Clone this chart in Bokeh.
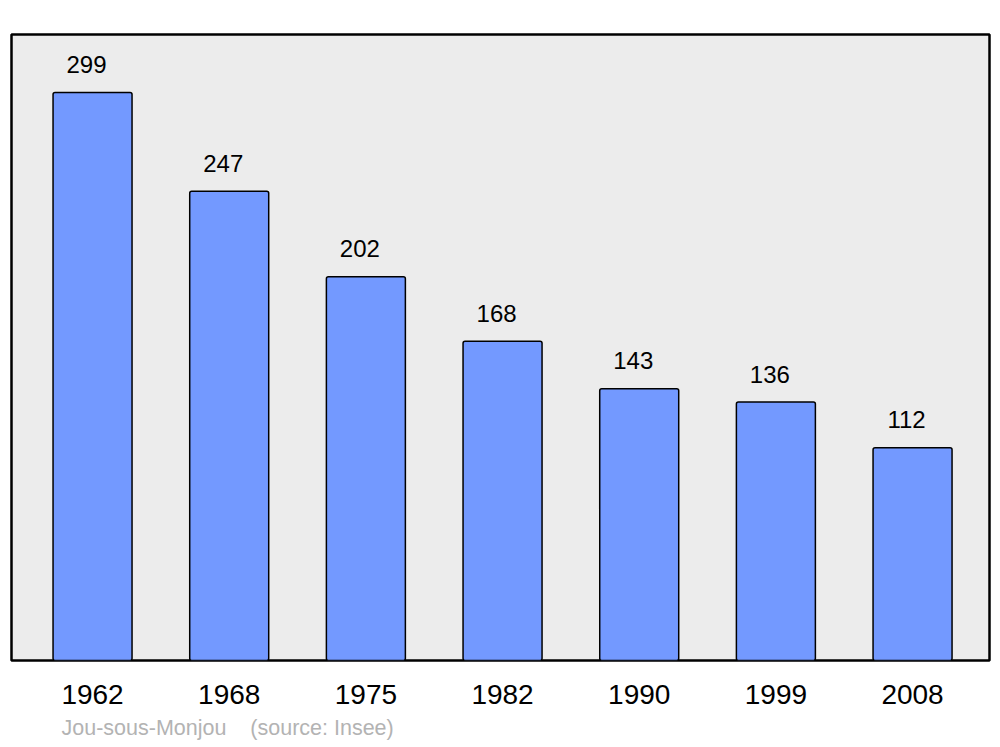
from bokeh.plotting import figure
from bokeh.models import ColumnDataSource, Range1d, Title, FixedTicker
from bokeh.core.properties import value
from bokeh.embed import file_html
from bokeh.resources import INLINE

years = ["1962", "1968", "1975", "1982", "1990", "1999", "2008"]
population = [299, 247, 202, 168, 143, 136, 112]
footer = "Jou-sous-Monjou\u00a0\u00a0\u00a0\u00a0(source: Insee)"

xs = list(range(len(years)))
src = ColumnDataSource(dict(x=xs, top=population, label=[str(v) for v in population]))

FONT = "Liberation Sans"

p = figure(width=992, height=747, output_backend="svg", toolbar_location=None,
           x_range=Range1d(-0.593, 6.563), y_range=Range1d(0, 329.5),
           min_border_left=11, min_border_right=3, min_border_top=34, min_border_bottom=87)
p.background_fill_color = "#ececec"
p.border_fill_color = "white"
p.outline_line_color = "black"
p.outline_line_width = 2.5
p.xgrid.visible = False
p.ygrid.visible = False
p.yaxis.visible = False

p.vbar(x="x", top="top", bottom=0, width=0.578, source=src,
       fill_color="#7399ff", line_color="black", line_width=1.5, border_radius=2)
p.text(x="x", y="top", text="label", source=src, x_offset=-6, y_offset=-28,
       text_align="center", text_baseline="middle",
       text_font=value(FONT), text_font_size="24px", text_color="black")

ax = p.xaxis[0]
ax.ticker = FixedTicker(ticks=xs)
ax.major_label_overrides = {i: y for i, y in enumerate(years)}
ax.major_tick_line_color = None
ax.minor_tick_line_color = None
ax.axis_line_color = None
ax.major_label_text_font = FONT
ax.major_label_text_font_size = "28px"
ax.major_label_text_color = "black"
ax.major_label_standoff = 18

t = Title(text=footer, align="left", offset=50, text_font=FONT, text_font_size="21.5px",
          text_font_style="normal", text_color="#b3b3b3", standoff=14)
p.add_layout(t, "below")

open("out.html", "w").write(file_html(p, INLINE))
